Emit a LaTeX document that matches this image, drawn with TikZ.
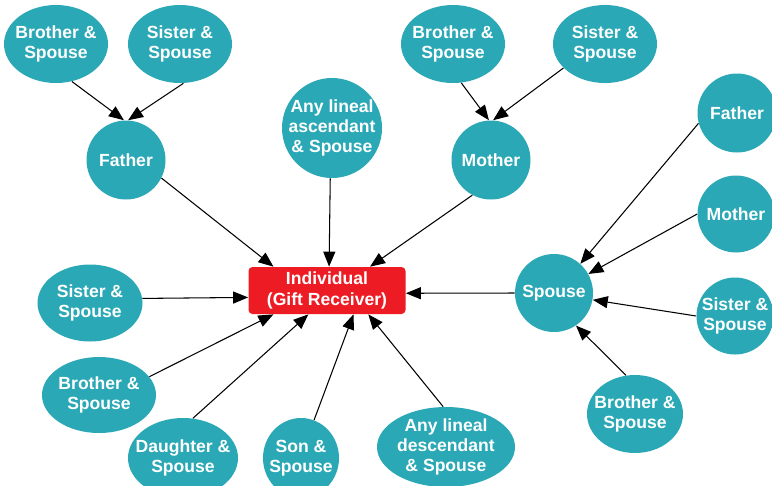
\documentclass[tikz,border=0pt]{standalone}
\usepackage{fontspec}
\setmainfont{Liberation Sans}
\usetikzlibrary{arrows.meta,shapes.geometric,positioning}
\definecolor{tealfill}{RGB}{42,168,181}
\definecolor{boxred}{RGB}{237,28,36}

\begin{document}
\begin{tikzpicture}[x=0.2mm,y=-0.2mm,
    person/.style={circle, fill=tealfill, text=white, inner sep=-2mm, minimum size=15.8mm,
        align=center, font=\fontsize{10}{11.5}\selectfont\bfseries},
    couple/.style={person, ellipse, minimum width=20.8mm, minimum height=15.6mm},
    gift/.style={-{Triangle[length=3mm,width=2.4mm]}, line width=0.6pt}]
    \useasboundingbox (0,0) rectangle (772,485);

    % receiver
    \node[rectangle, rounded corners=0.8mm, fill=boxred, text=white, inner sep=0pt,
        minimum width=31.4mm, minimum height=9.4mm, align=center,
        font=\fontsize{10}{11.5}\selectfont\bfseries] (ind) at (327,290.5) {Individual\\(Gift Receiver)};

    % father's side
    \node[couple] (bro1) at (56,44) {Brother \&\\Spouse};
    \node[couple] (sis1) at (180,44) {Sister \&\\Spouse};
    \node[person] (fa1) at (126,160) {Father};
    \node[person, minimum size=20mm] (asc) at (332,128) {Any lineal\\ascendant\\\& Spouse};

    % mother's side
    \node[person] (mo1) at (491,160) {Mother};
    \node[couple] (bro2) at (453,44) {Brother \&\\Spouse};
    \node[couple] (sis2) at (605,44) {Sister \&\\Spouse};

    % spouse's side
    \node[person, minimum size=15.6mm] (sp) at (554,293) {Spouse};
    \node[person] (fa2) at (737,113) {Father};
    \node[person, minimum size=15.4mm] (mo2) at (736,214) {Mother};
    \node[person, minimum size=15.4mm] (sis4) at (735,316) {Sister \&\\Spouse};
    \node[couple, minimum width=19.2mm] (bro4) at (635,414) {Brother \&\\Spouse};

    % own siblings and children
    \node[couple, minimum width=21mm, minimum height=15.4mm] (sis3) at (90,303) {Sister \&\\Spouse};
    \node[couple, minimum width=22.8mm, minimum height=15.2mm] (bro3) at (99,395) {Brother \&\\Spouse};
    \node[couple, minimum width=22mm, minimum height=16mm] (dau) at (183,458) {Daughter \&\\Spouse};
    \node[couple, minimum width=15.2mm, minimum height=16mm] (son) at (301,458) {Son \&\\Spouse};
    \node[couple, minimum width=27.6mm, minimum height=16mm] (desc) at (446,447) {Any lineal\\descendant\\\& Spouse};

    % arrows
    \draw[gift] (bro1.-67) -- (fa1.93);
    \draw[gift] (sis1.-85) -- (fa1.87);
    \draw[gift] (bro2.-78) -- (mo1.93);
    \draw[gift] (sis2.-150) -- (mo1.87);
    \draw[gift] (fa1.-27) -- (ind.156);
    \draw[gift] (asc.-92) -- (ind.85);
    \draw[gift] (mo1.-118) -- (ind.29);
    \draw[gift] (sp.west) -- (ind.-2);
    \draw[gift] (sis3.5) -- (ind.185);
    \draw[gift] (bro3.20) -- (ind.204);
    \draw[gift] (dau.76) -- (ind.232);
    \draw[gift] (son.71) -- (ind.318);
    \draw[gift] (desc.94) -- (ind.330);
    \draw[gift] (fa2.195) -- (sp.48);
    \draw[gift] (mo2.west) -- (sp.29);
    \draw[gift] (sis4.west) -- (sp.-10);
    \draw[gift] (bro4.103) -- (sp.-56);
\end{tikzpicture}
\end{document}
